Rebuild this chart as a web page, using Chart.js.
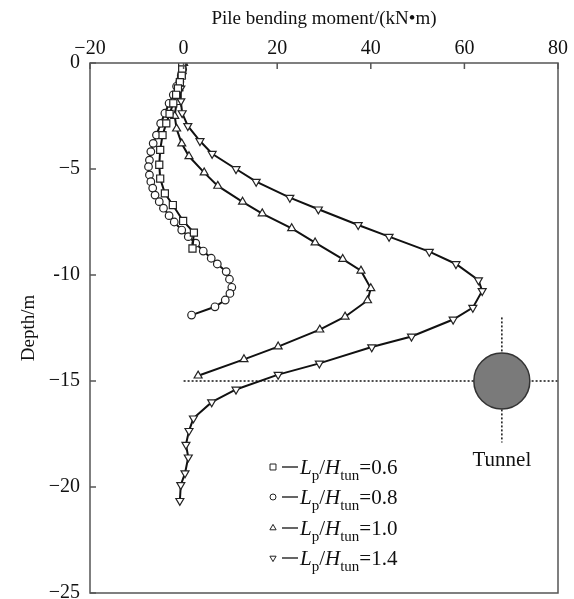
<!DOCTYPE html>
<html>
<head>
<meta charset="utf-8">
<script src="https://cdn.jsdelivr.net/npm/chart.js@4.4.0/dist/chart.umd.min.js"></script>
<style>
  html, body { margin: 0; padding: 0; background: #fff; }
  #wrap { width: 574px; height: 599px; }
</style>
</head>
<body>
<div id="wrap"><canvas id="chart"></canvas></div>
<script>
// depth (m) and pile bending moment (kN·m)
var depth06 = [0, -0.3, -0.6, -0.9, -1.2, -1.5, -1.9, -2.4, -2.85, -3.4, -4.1, -4.8, -5.45, -6.15, -6.7, -7.45, -8.0, -8.75];
var moment06 = [-0.3, -0.3, -0.4, -0.8, -1.2, -1.6, -2.2, -3.0, -3.7, -4.5, -5.0, -5.2, -5.0, -4.0, -2.3, -0.1, 2.2, 1.9];

var depth08 = [0, -0.3, -0.6, -0.88, -1.1, -1.5, -1.9, -2.37, -2.85, -3.4, -3.79, -4.18, -4.58, -4.89, -5.28, -5.6, -5.9, -6.23,
  -6.54, -6.85, -7.2, -7.5, -7.88, -8.19, -8.5, -8.87, -9.21, -9.48, -9.84, -10.2, -10.58, -10.87, -11.18, -11.5, -11.89];
var moment08 = [-0.1, -0.2, -0.5, -0.8, -1.5, -2.2, -3.1, -4.0, -4.9, -5.8, -6.5, -7.0, -7.3, -7.5, -7.3, -7.0, -6.6, -6.1,
  -5.2, -4.3, -3.1, -2.0, -0.4, 1.0, 2.6, 4.2, 5.9, 7.2, 9.1, 9.8, 10.3, 9.9, 8.9, 6.7, 1.7];

var depth10 = [0, -0.6, -1.2, -1.85, -2.5, -3.1, -3.8, -4.4, -5.17, -5.8, -6.55, -7.1, -7.8, -8.47, -9.25, -9.8, -10.63, -11.2,
  -11.97, -12.58, -13.38, -13.98, -14.75];
var moment10 = [0, -0.5, -1.0, -1.5, -1.9, -1.5, -0.4, 1.15, 4.4, 7.3, 12.6, 16.8, 23.1, 28.1, 34.0, 37.9, 40.0, 39.3,
  34.5, 29.1, 20.2, 12.9, 3.1];

var depth14 = [0, -0.6, -1.2, -1.8, -2.36, -2.97, -3.68, -4.28, -5.0, -5.6, -6.35, -6.9, -7.64, -8.19, -8.9, -9.48, -10.24, -10.75,
  -11.54, -12.1, -12.9, -13.4, -14.17, -14.7, -15.4, -16.0, -16.76, -17.35, -18.0, -18.6, -19.35, -19.9, -20.65];
var moment14 = [0, -0.3, -0.6, -0.6, -0.3, 0.9, 3.5, 6.1, 11.2, 15.5, 22.7, 28.8, 37.3, 43.9, 52.5, 58.2, 63.0, 63.8,
  61.8, 57.6, 48.7, 40.2, 29.0, 20.2, 11.2, 6.0, 2.1, 1.15, 0.5, 1.0, 0.3, -0.6, -0.8];

var ratioLabels = ['0.6', '0.8', '1.0', '1.4'];

// tunnel centre (moment axis position, depth) and its guide lines
var tunnelX = 68;
var tunnelDepth = -15;

var xTickLabels = ['\u221220', '0', '20', '40', '60', '80'];
var yTickLabels = ['0', '\u22125', '-10', '\u221215', '\u221220', '\u221225'];

function pairs(xs, ys) {
  return xs.map(function (x, i) { return { x: x, y: ys[i] }; });
}

var serif = '"Liberation Serif", "DejaVu Serif", serif';

function curve(label, xs, ys, style, rot, r) {
  return {
    label: label,
    data: pairs(xs, ys),
    showLine: true,
    borderColor: '#111',
    borderWidth: 2,
    pointStyle: style,
    rotation: rot,
    pointRadius: r,
    pointBackgroundColor: '#fff',
    pointBorderColor: '#222',
    pointBorderWidth: 1.2,
    order: 0
  };
}

var markers = [
  { style: 'rect', rot: 0, r: 4.2 },
  { style: 'circle', rot: 0, r: 3 },
  { style: 'triangle', rot: 0, r: 3.6 },
  { style: 'triangle', rot: 180, r: 3.6 }
];

// frame, inward ticks, legend and tunnel label
var decor = {
  id: 'decor',
  afterDraw: function (chart) {
    var ctx = chart.ctx;
    var a = chart.chartArea;
    var xs = chart.scales.x, ys = chart.scales.y;
    ctx.save();
    ctx.strokeStyle = '#555';
    ctx.lineWidth = 1.5;
    ctx.strokeRect(a.left, a.top, a.right - a.left, a.bottom - a.top);
    ctx.beginPath();
    xs.ticks.forEach(function (t) {
      var px = xs.getPixelForValue(t.value);
      ctx.moveTo(px, a.top); ctx.lineTo(px, a.top + 6);
    });
    ys.ticks.forEach(function (t) {
      var py = ys.getPixelForValue(t.value);
      ctx.moveTo(a.left, py); ctx.lineTo(a.left + 6, py);
    });
    ctx.stroke();

    // Tunnel label
    ctx.fillStyle = '#111';
    ctx.font = '21px ' + serif;
    ctx.textAlign = 'center';
    ctx.textBaseline = 'middle';
    ctx.fillText('Tunnel', xs.getPixelForValue(tunnelX), ys.getPixelForValue(-18.75));

    // legend
    ctx.textAlign = 'left';
    ctx.textBaseline = 'alphabetic';
    var rowY = [467, 497, 528, 558];
    for (var i = 0; i < 4; i++) {
      var y = rowY[i];
      var m = markers[i];
      ctx.fillStyle = '#fff';
      ctx.strokeStyle = '#222';
      ctx.lineWidth = 1;
      Chart.helpers.drawPoint(ctx, { pointStyle: m.style, rotation: m.rot, radius: m.r, borderWidth: 1 }, 273, y);
      ctx.strokeStyle = '#111';
      ctx.lineWidth = 1.3;
      ctx.beginPath(); ctx.moveTo(282, y); ctx.lineTo(298, y); ctx.stroke();
      ctx.fillStyle = '#111';
      var x = 300;
      var base = y + 7;
      ctx.font = 'italic 21px ' + serif;
      ctx.fillText('L', x, base); x += ctx.measureText('L').width;
      ctx.font = '15px ' + serif;
      ctx.fillText('p', x, base + 6); x += ctx.measureText('p').width;
      ctx.font = '21px ' + serif;
      ctx.fillText('/', x, base); x += ctx.measureText('/').width;
      ctx.font = 'italic 21px ' + serif;
      ctx.fillText('H', x, base); x += ctx.measureText('H').width;
      ctx.font = '15px ' + serif;
      ctx.fillText('tun', x, base + 6); x += ctx.measureText('tun').width;
      ctx.font = '21px ' + serif;
      ctx.fillText('=' + ratioLabels[i], x, base);
    }
    ctx.restore();
  }
};

var datasets = [
  curve('Lp/Htun=0.6', moment06, depth06, 'rect', 0, 5),
  curve('Lp/Htun=0.8', moment08, depth08, 'circle', 0, 3.8),
  curve('Lp/Htun=1.0', moment10, depth10, 'triangle', 0, 4.6),
  curve('Lp/Htun=1.4', moment14, depth14, 'triangle', 180, 4.6),
  {
    label: 'tunnel',
    data: [{ x: tunnelX, y: tunnelDepth }],
    pointRadius: 28,
    pointBackgroundColor: '#7a7a7a',
    pointBorderColor: '#333',
    pointBorderWidth: 1.5,
    order: 5
  },
  {
    label: 'level',
    data: [{ x: 0, y: tunnelDepth }, { x: 80, y: tunnelDepth }],
    showLine: true, borderColor: '#222', borderWidth: 1.6, borderDash: [2, 2], pointRadius: 0, order: 10
  },
  {
    label: 'axis',
    data: [{ x: tunnelX, y: -12 }, { x: tunnelX, y: -17.9 }],
    showLine: true, borderColor: '#222', borderWidth: 1.6, borderDash: [2, 2], pointRadius: 0, order: 10
  }
];

new Chart(document.getElementById('chart').getContext('2d'), {
  type: 'scatter',
  data: { datasets: datasets },
  options: {
    responsive: true,
    maintainAspectRatio: false,
    animation: false,
    layout: { autoPadding: false, padding: { top: 0, left: 0, right: 16, bottom: 6 } },
    plugins: {
      legend: { display: false },
      tooltip: { enabled: false }
    },
    scales: {
      x: {
        type: 'linear',
        position: 'top',
        min: -20,
        max: 80,
        afterBuildTicks: function (s) { s.ticks = xTickLabels.map(function (_, i) { return { value: -20 + 20 * i }; }); },
        ticks: {
          padding: 2,
          color: '#111',
          font: { family: serif, size: 20 },
          maxRotation: 0,
          callback: function (v, i) { return xTickLabels[i]; }
        },
        grid: { drawOnChartArea: false, drawTicks: false },
        border: { display: false },
        title: {
          display: true,
          text: 'Pile bending moment/(kN\u2022m)',
          color: '#111',
          font: { family: serif, size: 19 },
          padding: { top: 8, bottom: 0 }
        },
        afterFit: function (s) { s.height = 63; s.paddingLeft = 0; s.paddingRight = 0; }
      },
      y: {
        type: 'linear',
        min: -25,
        max: 0,
        afterBuildTicks: function (s) { s.ticks = yTickLabels.map(function (_, i) { return { value: -5 * i }; }); },
        ticks: {
          padding: 10,
          color: '#111',
          font: { family: serif, size: 20 },
          callback: function (v) { return yTickLabels[Math.round(-v / 5)]; }
        },
        grid: { drawOnChartArea: false, drawTicks: false },
        border: { display: false },
        title: {
          display: true,
          text: 'Depth/m',
          color: '#111',
          font: { family: serif, size: 19 },
          padding: { top: 18, bottom: 0 }
        },
        afterFit: function (s) { s.width = 90; s.paddingTop = 0; s.paddingBottom = 0; }
      }
    }
  },
  plugins: [decor]
});
</script>
</body>
</html>
